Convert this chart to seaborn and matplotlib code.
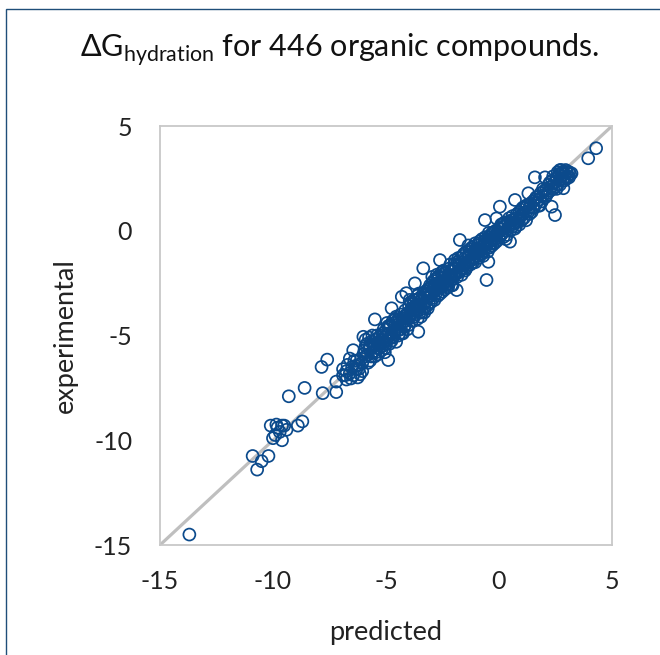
import matplotlib
matplotlib.use("Agg")
import matplotlib.pyplot as plt
import matplotlib.patches as mpatches
import seaborn as sns
import pandas as pd

# (predicted, experimental)
tail_pts = [(-13.7, -14.5), (-10.9, -10.75), (-10.7, -11.4), (-10.2, -10.75), (-10.5, -11.0),
            (-10.1, -9.3), (-9.6, -9.3), (-9.9, -9.75), (-9.6, -10.0), (-9.4, -9.5),
            (-8.9, -9.3), (-8.7, -9.1), (-9.8, -9.4), (-9.7, -9.6), (-10.0, -9.9),
            (-9.5, -9.3), (-9.85, -9.25), (-9.3, -7.9), (-8.6, -7.5), (-7.8, -7.75),
            (-7.85, -6.5), (-7.6, -6.15), (-7.2, -7.7), (-7.2, -7.2), (-6.75, -7.1),
            (-6.9, -6.6), (-6.8, -6.9), (-6.7, -6.4), (-6.6, -6.8), (-6.55, -7.05),
            (-6.75, -6.7), (-6.6, -6.1), (-6.9, -6.9)]

core_low = [(-6.5, -6.5), (-6.45, -6.9), (-6.4, -6.2), (-6.35, -6.45), (-6.3, -6.6), (-6.25, -7.0),
            (-6.2, -6.4), (-6.15, -6.85), (-6.1, -6.1), (-6.05, -6.7), (-6.0, -5.9), (-6.45, -5.7),
            (-6.3, -6.2), (-6.2, -6.6), (-6.05, -6.3), (-6.0, -5.06), (-5.49, -4.23),
            (-5.95, -5.7), (-5.9, -6.0), (-5.85, -5.4), (-5.8, -5.9), (-5.75, -5.6), (-5.7, -6.2),
            (-5.65, -5.3), (-5.6, -5.8), (-5.55, -5.5), (-5.5, -6.0), (-5.45, -5.2), (-5.4, -5.6),
            (-5.35, -5.9), (-5.3, -5.1), (-5.25, -5.4), (-5.2, -5.7), (-5.15, -4.9), (-5.1, -5.3),
            (-5.05, -5.6), (-5.0, -5.0), (-5.9, -5.2), (-5.8, -6.3), (-5.6, -5.0), (-5.5, -5.4),
            (-5.4, -5.0), (-5.3, -5.6), (-5.2, -5.2), (-5.1, -4.7), (-5.0, -5.4), (-5.7, -5.5),
            (-5.55, -5.75), (-5.35, -5.35), (-5.15, -5.5), (-5.05, -5.1), (-5.75, -5.1)]

core_mid = [(-4.98, -4.7), (-4.95, -5.2), (-4.9, -4.9), (-4.9, -6.17), (-4.85, -5.4), (-4.8, -4.5),
            (-4.75, -3.7), (-4.75, -4.9), (-4.7, -5.1), (-4.65, -4.4), (-4.6, -4.8), (-4.55, -5.3),
            (-4.5, -4.3), (-4.5, -4.6), (-4.45, -5.0), (-4.4, -4.2), (-4.35, -4.7), (-4.3, -3.15),
            (-4.3, -4.4), (-4.25, -4.9), (-4.2, -4.1), (-4.15, -4.5), (-4.1, -2.98), (-4.1, -4.3),
            (-4.05, -4.7), (-4.0, -3.9), (-4.0, -4.2), (-4.85, -4.6), (-4.7, -4.3), (-4.6, -4.5),
            (-4.4, -4.9), (-4.25, -4.2), (-4.15, -3.8), (-4.05, -4.0), (-4.95, -4.4), (-4.55, -4.1),
            (-4.35, -4.0), (-4.8, -5.1), (-4.2, -4.6), (-4.65, -4.95),
            (-3.98, -3.6), (-3.95, -4.1), (-3.9, -3.8), (-3.85, -4.3), (-3.8, -3.5), (-3.8, -3.9),
            (-3.75, -4.1), (-3.72, -2.51), (-3.7, -3.6), (-3.65, -3.3), (-3.6, -3.8), (-3.57, -4.82),
            (-3.55, -3.5), (-3.5, -3.9), (-3.5, -3.2), (-3.45, -3.6), (-3.4, -3.3), (-3.4, -3.9),
            (-3.35, -1.79), (-3.35, -3.5), (-3.3, -3.1), (-3.3, -3.7), (-3.25, -3.4), (-3.2, -3.0),
            (-3.2, -3.6), (-3.15, -3.2), (-3.1, -3.5), (-3.1, -2.8), (-3.05, -3.1), (-3.0, -3.4),
            (-3.0, -2.7), (-3.9, -3.4), (-3.7, -4.0), (-3.6, -3.1), (-3.45, -4.1), (-3.25, -2.9),
            (-3.15, -3.7), (-3.05, -2.6), (-3.85, -3.7), (-3.65, -3.7), (-3.55, -3.0), (-3.35, -3.0),
            (-3.95, -3.3), (-3.75, -3.3), (-3.15, -3.0)]

core_high = [(-2.98, -3.0), (-2.95, -2.5), (-2.9, -2.8), (-2.9, -3.2), (-2.85, -2.6), (-2.8, -3.0),
             (-2.8, -2.3), (-2.75, -2.7), (-2.7, -3.1), (-2.7, -2.5), (-2.65, -2.2), (-2.61, -1.4),
             (-2.6, -2.7), (-2.55, -2.4), (-2.5, -2.9), (-2.5, -2.1), (-2.45, -2.5), (-2.4, -2.2),
             (-2.4, -2.8), (-2.35, -2.0), (-2.3, -2.4), (-2.3, -2.7), (-2.25, -2.1), (-2.2, -2.5),
             (-2.2, -1.8), (-2.15, -2.2), (-2.1, -2.6), (-2.1, -1.9), (-2.05, -2.3), (-2.0, -1.8),
             (-2.0, -2.1), (-2.85, -2.9), (-2.75, -2.1), (-2.6, -3.0), (-2.45, -1.9), (-2.35, -2.6),
             (-2.25, -2.4), (-2.15, -1.6), (-2.05, -2.6), (-2.9, -2.4), (-2.65, -2.6), (-2.55, -2.0),
             (-2.4, -2.4), (-2.2, -2.2), (-2.95, -2.2),
             (-1.98, -1.6), (-1.95, -2.1), (-1.9, -1.8), (-1.87, -2.83), (-1.85, -1.5), (-1.8, -2.0),
             (-1.75, -1.7), (-1.73, -0.44), (-1.7, -1.3), (-1.7, -1.9), (-1.65, -1.5), (-1.6, -1.8),
             (-1.6, -1.2), (-1.55, -1.6), (-1.5, -1.9), (-1.5, -1.3), (-1.45, -1.0), (-1.4, -1.5),
             (-1.4, -1.7), (-1.35, -1.2), (-1.3, -1.4), (-1.3, -0.9), (-1.25, -1.6), (-1.2, -1.1),
             (-1.2, -1.4), (-1.15, -0.8), (-1.1, -1.3), (-1.1, -1.0), (-1.05, -1.5), (-1.0, -0.9),
             (-1.95, -1.4), (-1.8, -1.3), (-1.65, -2.1), (-1.55, -1.1), (-1.45, -1.8), (-1.35, -0.7),
             (-1.25, -1.0), (-1.15, -1.5), (-1.05, -0.6), (-1.85, -2.2),
             (-0.98, -1.2), (-0.95, -0.7), (-0.9, -0.9), (-0.9, -1.3), (-0.85, -0.5), (-0.8, -0.8),
             (-0.8, -1.1), (-0.75, -0.4), (-0.7, -0.7), (-0.7, -1.2), (-0.65, -0.5), (-0.62, 0.51),
             (-0.6, -0.8), (-0.55, -2.35), (-0.55, -0.4), (-0.5, -0.6), (-0.5, -1.0), (-0.47, -1.48),
             (-0.45, -0.3), (-0.4, -0.5), (-0.4, -0.8), (-0.35, -0.2), (-0.3, -0.4), (-0.3, -0.7),
             (-0.25, -0.1), (-0.2, -0.3), (-0.2, -0.6), (-0.15, 0.0), (-0.11, 0.59), (-0.1, -0.2),
             (-0.1, -0.5), (-0.05, -0.1), (0.0, -0.3), (-0.95, -1.0), (-0.75, -0.9), (-0.6, -0.3),
             (-0.35, -0.6), (-0.15, -0.4), (-0.85, -1.0), (-0.45, -0.1)]

core_extra = [(-5.9, -5.5), (-5.65, -6.0), (-5.45, -5.8), (-5.25, -5.0), (-5.05, -5.8), (-4.9, -4.55),
              (-4.75, -5.25), (-4.6, -4.2), (-4.45, -4.75), (-4.3, -4.9), (-4.15, -4.05), (-4.0, -4.5),
              (-3.9, -4.0), (-3.75, -3.65), (-3.6, -4.2), (-3.45, -3.3), (-3.3, -3.9), (-3.15, -2.8),
              (-3.0, -3.1), (-2.85, -3.3), (-2.7, -2.2), (-2.55, -2.7), (-2.4, -2.0), (-2.25, -2.7),
              (-2.1, -2.2), (-1.95, -1.8), (-1.8, -1.6), (-1.65, -1.8), (-1.5, -1.6), (-1.35, -1.5),
              (-1.2, -0.8), (-1.05, -1.1), (-0.9, -0.6), (-0.75, -1.1), (-0.6, -0.6), (-0.45, -0.8),
              (-0.3, -0.1), (-0.15, -0.2), (0.0, 0.1), (0.15, 0.3), (0.3, -0.4), (0.45, 0.2),
              (0.6, 0.5), (0.75, 0.2), (0.9, 0.6), (1.05, 1.1), (1.2, 1.2), (1.35, 0.8),
              (1.5, 1.1), (1.65, 1.6), (1.8, 1.2), (1.95, 2.0), (2.1, 1.7), (2.25, 2.3),
              (2.4, 2.6), (2.55, 2.0), (2.7, 2.2), (2.85, 2.8), (3.0, 2.8), (3.1, 2.55)]

upper_pts = [(0.04, 1.15), (0.05, 0.1), (0.1, -0.2), (0.1, 0.3), (0.15, -0.1), (0.2, 0.2),
             (0.2, -0.3), (0.25, 0.4), (0.3, 0.0), (0.3, 0.3), (0.35, -0.2), (0.4, 0.4),
             (0.4, 0.1), (0.45, 0.6), (0.49, -0.52), (0.5, 0.3), (0.5, 0.0), (0.55, 0.5),
             (0.6, 0.2), (0.6, 0.7), (0.65, 0.4), (0.7, 0.1), (0.71, 1.47), (0.75, 0.6),
             (0.8, 0.4), (0.8, 0.8), (0.85, 0.5), (0.9, 0.9), (0.9, 0.3), (0.95, 0.7),
             (1.0, 0.5), (1.0, 1.0), (1.05, 0.8), (1.1, 0.6), (1.15, 1.1), (1.2, 0.9),
             (1.2, 0.5), (1.25, 1.2), (1.3, 1.79), (1.3, 0.9), (1.35, 1.1), (1.4, 1.3),
             (1.45, 0.9), (1.5, 1.4), (1.55, 1.1), (1.59, 2.55), (1.6, 1.5), (1.65, 1.3),
             (1.7, 1.6), (1.75, 1.2), (1.8, 1.5), (1.85, 1.8), (1.9, 1.4), (1.95, 1.7),
             (2.0, 1.9), (2.04, 2.55), (2.05, 1.6), (2.1, 2.0), (2.15, 1.8), (2.2, 2.2),
             (2.25, 1.9), (2.3, 2.1), (2.33, 1.15), (2.35, 2.4), (2.4, 2.0), (2.45, 2.3),
             (2.48, 0.75), (2.5, 2.1), (2.55, 2.5), (2.6, 2.2), (2.65, 2.7), (2.7, 2.9),
             (2.7, 2.4), (2.75, 2.6), (2.8, 2.8), (2.85, 2.03), (2.85, 2.5), (2.9, 2.7),
             (2.95, 2.9), (2.99, 2.8), (3.05, 2.6), (3.1, 2.8), (3.15, 2.7), (3.21, 2.74),
             (3.95, 3.46), (4.3, 3.94), (2.6, 2.8), (2.9, 2.4), (3.0, 2.5), (2.75, 2.9)]

ticks = [-15, -10, -5, 0, 5]

pts = tail_pts + core_low + core_mid + core_high + core_extra + upper_pts
df = pd.DataFrame(pts, columns=["predicted", "experimental"])

sns.set_style("white")
plt.rcParams["font.family"] = ["Lato", "DejaVu Sans"]
plt.rcParams["axes.unicode_minus"] = False
plt.rcParams["mathtext.fontset"] = "custom"
plt.rcParams["mathtext.rm"] = "Lato"

fig = plt.figure(figsize=(6.6, 6.55), dpi=100)
ax = fig.add_axes([0.2424, 0.1679, 0.6848, 0.6397])

ax.axline((0, 0), slope=1, color="#BFBFBF", lw=2.3, zorder=1)
sns.scatterplot(data=df, x="predicted", y="experimental", ax=ax, marker="o", s=74,
                facecolors="none", edgecolor="#0B4A8C", linewidth=1.25, zorder=2)

ax.set_xlim(-15, 5)
ax.set_ylim(-15, 5)
ax.set_xticks(ticks)
ax.set_yticks(ticks)
ax.tick_params(axis="both", length=7, width=1.2, color="#BFBFBF", labelsize=18,
               labelcolor="#222222", direction="out")
ax.tick_params(axis="y", pad=13)
ax.tick_params(axis="x", pad=11)
for sp in ax.spines.values():
    sp.set_color("#C8C8C8")
    sp.set_linewidth(1.3)
ax.set_xlabel("predicted", fontsize=19.5, color="#222222")
ax.set_ylabel("experimental", fontsize=19.5, color="#222222")
ax.xaxis.set_label_coords(0.5, -0.2076)
ax.xaxis.label.set_va("center")
ax.yaxis.set_label_coords(-0.21, 0.5)
ax.yaxis.label.set_va("center")

fig.text(0.514, 0.924, r"ΔG$_{\mathrm{hydration}}$ for 446 organic compounds.",
         ha="center", va="center", fontsize=22, color="#111111")

# chart frame, only top and left edges inside the picture
fig.patches.append(mpatches.Rectangle((6 / 660, -0.1), 1.2, 1.1 - 9 / 655,
                                      transform=fig.transFigure, fill=False,
                                      edgecolor="#1F4E79", lw=1.0))

fig.savefig("out.png", dpi=100)
